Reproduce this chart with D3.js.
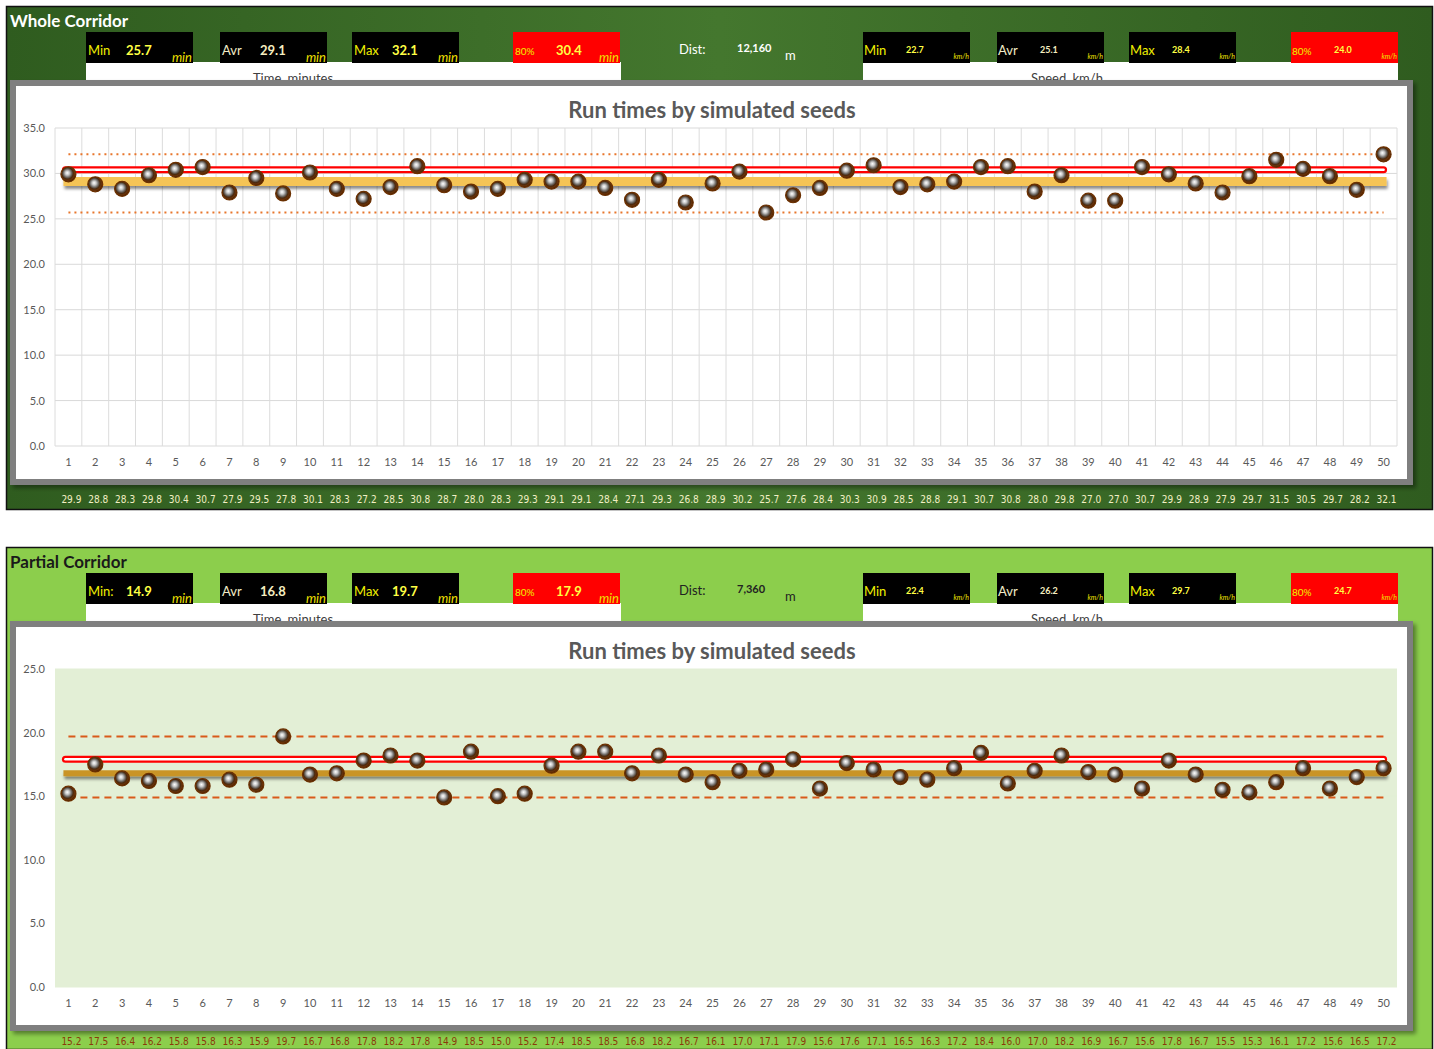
<!DOCTYPE html>
<html><head><meta charset="utf-8">
<script src="https://cdn.jsdelivr.net/npm/d3@7"></script>
<style>
body{margin:0;background:#fff;}
svg{display:block;font-family:Lato,"Open Sans",sans-serif;}
</style></head>
<body>
<svg id="c" width="1434" height="1049"></svg>
<script>
// ---------- DATA ----------
const seeds = [1,2,3,4,5,6,7,8,9,10,11,12,13,14,15,16,17,18,19,20,21,22,23,24,25,26,27,28,29,30,31,32,33,34,35,36,37,38,39,40,41,42,43,44,45,46,47,48,49,50];
const wholeTimes = [29.9,28.8,28.3,29.8,30.4,30.7,27.9,29.5,27.8,30.1,28.3,27.2,28.5,30.8,28.7,28.0,28.3,29.3,29.1,29.1,28.4,27.1,29.3,26.8,28.9,30.2,25.7,27.6,28.4,30.3,30.9,28.5,28.8,29.1,30.7,30.8,28.0,29.8,27.0,27.0,30.7,29.9,28.9,27.9,29.7,31.5,30.5,29.7,28.2,32.1];
const partialTimes = [15.2,17.5,16.4,16.2,15.8,15.8,16.3,15.9,19.7,16.7,16.8,17.8,18.2,17.8,14.9,18.5,15.0,15.2,17.4,18.5,18.5,16.8,18.2,16.7,16.1,17.0,17.1,17.9,15.6,17.6,17.1,16.5,16.3,17.2,18.4,16.0,17.0,18.2,16.9,16.7,15.6,17.8,16.7,15.5,15.3,16.1,17.2,15.6,16.5,17.2];
const statLabels = ["Min","Avr","Max","80%"];
const wholeTimeStats = [25.7, 29.1, 32.1, 30.4];
const wholeSpeedStats = [22.7, 25.1, 28.4, 24.0];
const partialTimeStats = [14.9, 16.8, 19.7, 17.9];
const partialSpeedStats = [22.4, 26.2, 29.7, 24.7];
const wholeDist = "12,160";
const partialDist = "7,360";
const wholeYTicks = [0,5,10,15,20,25,30,35];
const partialYTicks = [0,5,10,15,20,25];

const svg = d3.select("#c");
const defs = svg.append("defs");
const g1 = defs.append("radialGradient").attr("id","ball").attr("cx","45%").attr("cy","45%").attr("r","55%").attr("fx","42%").attr("fy","40%");
[["0%","#ffffff"],["25%","#c8c8c8"],["50%","#6e6a66"],["68%","#4a2a10"],["85%","#6a3208"],["100%","#3a1800"]].forEach(s=>g1.append("stop").attr("offset",s[0]).attr("stop-color",s[1]));
const topBg = defs.append("linearGradient").attr("id","topbg").attr("x1","0").attr("x2","1");
[["0%","#2f5c1f"],["50%","#44772e"],["100%","#2f5c1f"]].forEach(s=>topBg.append("stop").attr("offset",s[0]).attr("stop-color",s[1]));
const sh = defs.append("filter").attr("id","shadow").attr("filterUnits","userSpaceOnUse")
  .attr("x",0).attr("y",0).attr("width",1434).attr("height",1049);
sh.append("feDropShadow").attr("dx",1).attr("dy",3).attr("stdDeviation",1.5).attr("flood-color","#000").attr("flood-opacity",0.45);
const psh = defs.append("filter").attr("id","pshadow").attr("x","-2%").attr("y","-2%").attr("width","104%").attr("height","106%");
psh.append("feDropShadow").attr("dx",3).attr("dy",3).attr("stdDeviation",2).attr("flood-color","#000").attr("flood-opacity",0.4);

function drawSection(cfg){
  const dy = cfg.dy;
  const G = svg.append("g");
  G.append("rect").attr("x",6.5).attr("y",6.5+dy).attr("width",1426).attr("height",cfg.outerH)
    .attr("fill",cfg.bg).attr("stroke","#111").attr("stroke-width",1.5);
  G.append("text").attr("x",10).attr("y",27+dy).attr("font-size",17).attr("font-weight",700)
    .attr("fill",cfg.titleColor).text(cfg.title);

  const timeX = [86,220,352,513], speedX=[863,997,1129,1291];
  G.append("rect").attr("x",86).attr("y",62+dy).attr("width",535).attr("height",22).attr("fill","#fff");
  G.append("rect").attr("x",863).attr("y",62+dy).attr("width",535).attr("height",22).attr("fill","#fff");
  G.append("text").attr("x",293).attr("y",83+dy).attr("text-anchor","middle").attr("font-size",13).attr("fill","#404040").text("Time, minutes");
  G.append("text").attr("x",1067).attr("y",83+dy).attr("text-anchor","middle").attr("font-size",13).attr("fill","#404040").text("Speed, km/h");

  statLabels.forEach((lab,i)=>{
    const red = i===3;
    const x = timeX[i];
    G.append("rect").attr("x",x).attr("y",32+dy).attr("width",107).attr("height",31).attr("fill",red?"#ff0000":"#000");
    G.append("text").attr("x",x+2).attr("y",55+dy).attr("font-size",red?10:13)
      .attr("fill", i===1?"#f2ecc8":"#f0f000").text(lab + (cfg.colon && i===0?":":""));
    G.append("text").attr("x",x+(red?43:40)).attr("y",55+dy).attr("font-size",13).attr("font-weight",700)
      .attr("fill",i===1?"#f6eec0":"#ffff44").text(cfg.timeStats[i].toFixed(1));
    G.append("text").attr("x",x+106).attr("y",62+dy).attr("text-anchor","end").attr("font-size",13).attr("font-style","italic")
      .attr("fill","#f0e000").text("min");
    const sx = speedX[i];
    G.append("rect").attr("x",sx).attr("y",32+dy).attr("width",107).attr("height",31).attr("fill",red?"#ff0000":"#000");
    G.append("text").attr("x",sx+1).attr("y",55+dy).attr("font-size",red?10:13)
      .attr("fill", i===1?"#f2ecc8":"#f0f000").text(lab);
    G.append("text").attr("x",sx+43).attr("y",53+dy).attr("font-size",9).attr("font-weight",700)
      .attr("fill",i===1?"#f6eec0":"#ffff44").text(cfg.speedStats[i].toFixed(1));
    G.append("text").attr("x",sx+106).attr("y",59+dy).attr("text-anchor","end").attr("font-size",7).attr("font-style","italic")
      .attr("fill","#f0e000").text("km/h");
  });
  G.append("text").attr("x",679).attr("y",54+dy).attr("font-size",13).attr("fill",cfg.distColor).text("Dist:");
  G.append("text").attr("x",737).attr("y",52+dy).attr("font-size",11).attr("font-weight",700).attr("fill",cfg.distColor).text(cfg.dist);
  G.append("text").attr("x",785).attr("y",60+dy).attr("font-size",13).attr("fill",cfg.distColor).text("m");

  G.append("rect").attr("x",13).attr("y",83+dy).attr("width",1397).attr("height",cfg.panelH)
    .attr("fill","#fff").attr("stroke","#7f7f7f").attr("stroke-width",6).attr("filter","url(#pshadow)");
  G.append("text").attr("x",712).attr("y",118+dy).attr("text-anchor","middle").attr("font-size",22).attr("font-weight",700)
    .attr("fill","#595959").text("Run times by simulated seeds");

  const yTop = 128+dy, yBot = 446+dy;
  const x = d3.scaleBand().domain(seeds).range([55,1397]);
  const y = d3.scaleLinear().domain([0,cfg.yMax]).range([yBot,yTop]);
  const cx = d => x(d)+x.bandwidth()/2;

  if(cfg.plotBg){
    G.append("rect").attr("x",55).attr("y",yTop).attr("width",1342).attr("height",yBot-yTop).attr("fill",cfg.plotBg);
  }
  G.append("g").selectAll("line").data(cfg.yTicks).join("line")
    .attr("x1",55).attr("x2",1397).attr("y1",d=>y(d)).attr("y2",d=>y(d))
    .attr("stroke",cfg.gridColor).attr("stroke-width",1);
  if(cfg.vgrid){
    G.append("g").selectAll("line").data(seeds.concat([51])).join("line")
      .attr("x1",(d,i)=>55+i*x.step()).attr("x2",(d,i)=>55+i*x.step())
      .attr("y1",yTop).attr("y2",yBot).attr("stroke","#dcdcdc").attr("stroke-width",1);
  }
  const ya = G.append("g").attr("transform","translate(55,0)")
    .call(d3.axisLeft(y).tickValues(cfg.yTicks).tickFormat(d3.format(".1f")).tickSize(0).tickPadding(10));
  ya.select(".domain").remove();
  ya.selectAll("text").attr("font-size",11).attr("fill","#595959").attr("font-family","Lato,sans-serif");
  const xa = G.append("g").attr("transform",`translate(0,${yBot})`)
    .call(d3.axisBottom(x).tickSize(0).tickPadding(12));
  xa.select(".domain").remove();
  xa.selectAll("text").attr("font-size",11).attr("fill","#595959").attr("font-family","Lato,sans-serif");

  const xs = cx(seeds[0]), xe = cx(seeds[seeds.length-1]);
  [cfg.timeStats[0], cfg.timeStats[2]].forEach(v=>{
    G.append("line").attr("x1",xs).attr("x2",xe).attr("y1",y(v)).attr("y2",y(v))
      .attr("stroke",cfg.limColor).attr("stroke-width",cfg.limWidth).attr("stroke-dasharray",cfg.limDash);
  });
  G.append("line").attr("x1",xs-5).attr("x2",xe+3).attr("y1",y(cfg.timeStats[1])).attr("y2",y(cfg.timeStats[1]))
    .attr("stroke",cfg.avgColor).attr("stroke-width",cfg.avgWidth).attr("filter","url(#shadow)");
  G.append("line").attr("x1",xs-3).attr("x2",xe).attr("y1",y(cfg.timeStats[3])).attr("y2",y(cfg.timeStats[3]))
    .attr("stroke","#ff0000").attr("stroke-width",7).attr("stroke-linecap","round");
  G.append("line").attr("x1",xs-3).attr("x2",xe).attr("y1",y(cfg.timeStats[3])).attr("y2",y(cfg.timeStats[3]))
    .attr("stroke","#ffffff").attr("stroke-width",2.5).attr("stroke-linecap","round");

  G.append("g").selectAll("circle").data(cfg.values).join("circle")
    .attr("cx",(d,i)=>cx(seeds[i])).attr("cy",d=>y(d)).attr("r",7.5)
    .attr("fill","url(#ball)").attr("stroke","#6b3000").attr("stroke-width",1.2);

  G.append("g").selectAll("text").data(cfg.values).join("text")
    .attr("x",(d,i)=>cx(seeds[i])+3).attr("y",cfg.valY+dy).attr("text-anchor","middle")
    .attr("font-size",10).attr("font-family","'Liberation Sans Narrow','DejaVu Sans Condensed',sans-serif")
    .attr("fill",cfg.valColor).text(d=>d.toFixed(1));
}

drawSection({dy:0, outerH:503, bg:"url(#topbg)", title:"Whole Corridor", titleColor:"#ffffff", colon:false,
  timeStats:wholeTimeStats, speedStats:wholeSpeedStats, dist:wholeDist, distColor:"#ffffff",
  panelH:399, yMax:35, yTicks:wholeYTicks, plotBg:null, gridColor:"#d9d9d9", vgrid:true,
  values:wholeTimes, limColor:"#e8762c", limWidth:2, limDash:"2,4", avgColor:"#f5c457", avgWidth:9,
  valY:503, valColor:"#f2efc4"});
drawSection({dy:541, outerH:502, bg:"#8cce4c", title:"Partial Corridor", titleColor:"#1a1a1a", colon:true,
  timeStats:partialTimeStats, speedStats:partialSpeedStats, dist:partialDist, distColor:"#222",
  panelH:404, yMax:25, yTicks:partialYTicks, plotBg:"#e3efd6", gridColor:"#e3efd6", vgrid:false,
  values:partialTimes, limColor:"#d95a1a", limWidth:2, limDash:"7,5", avgColor:"#c99426", avgWidth:6,
  valY:504, valColor:"#8a3a0a"});
</script>
</body></html>
